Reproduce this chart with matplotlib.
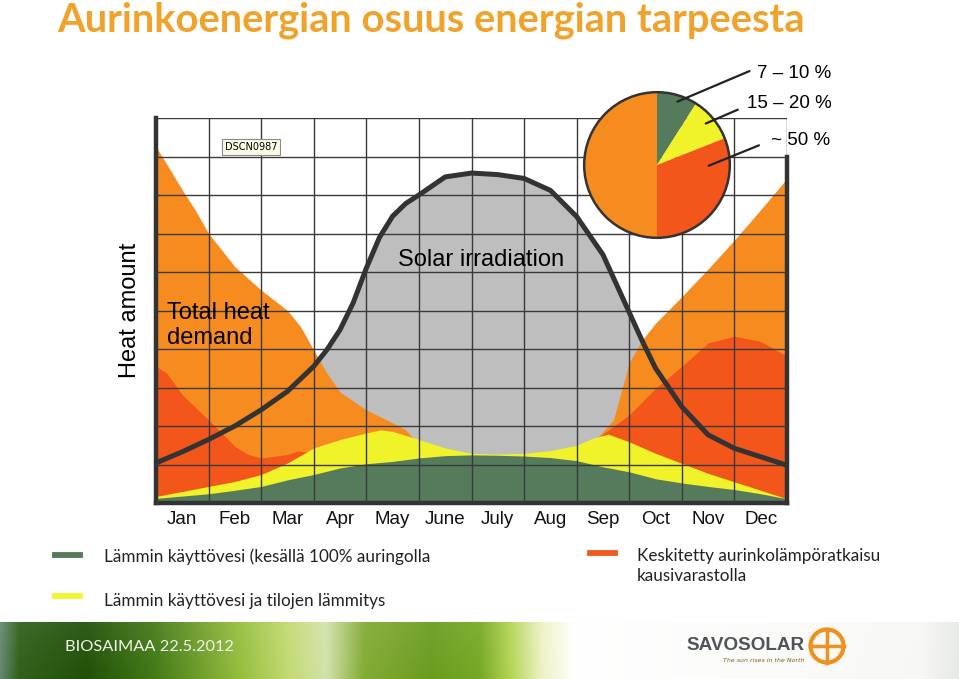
import matplotlib
matplotlib.use('Agg')
import matplotlib.pyplot as plt
import numpy as np
from matplotlib.lines import Line2D
from matplotlib.patches import Circle

# month labels, one per grid column
months = ['Jan', 'Feb', 'Mar', 'Apr', 'May', 'June', 'July', 'Aug', 'Sep', 'Oct', 'Nov', 'Dec']

# solar irradiation curve (grid units, x = months from start of Jan)
solar_x = [0, 0.5, 1, 1.5, 2, 2.5, 3, 3.25, 3.5, 3.75, 4, 4.25, 4.5, 4.75, 5, 5.5, 6,
           6.5, 7, 7.5, 8, 8.5, 9, 9.25, 9.5, 10, 10.5, 11, 11.5, 12]
solar_y = [1.04, 1.33, 1.65, 2.0, 2.42, 2.9, 3.55, 3.98, 4.5, 5.2, 6.1, 6.9, 7.45, 7.78, 8.0, 8.47, 8.57,
           8.53, 8.43, 8.12, 7.44, 6.45, 4.95, 4.2, 3.5, 2.5, 1.77, 1.42, 1.2, 0.98]

# total heat demand (top of the orange area)
orange_x = [0, 0.25, 0.5, 0.75, 1, 1.5, 2, 2.5, 2.75, 3, 3.25, 3.5, 4, 4.5, 4.75, 5, 6, 7, 8,
            8.4, 8.7, 9, 9.25, 9.5, 10, 10.5, 11, 11.5, 12]
orange_y = [9.25, 8.7, 8.13, 7.6, 7.0, 6.14, 5.53, 5.0, 4.58, 3.97, 3.37, 2.88, 2.42, 2.08, 1.9, 1.5, 1.2, 1.2, 1.3,
            1.7, 2.16, 3.65, 4.24, 4.67, 5.36, 6.08, 6.83, 7.62, 8.43]

# seasonal storage solution (top of the red area)
red_x = [0, 0.2, 0.5, 1, 1.5, 1.75, 2, 2.5, 2.7, 3, 4, 5, 6, 7, 8, 8.3,
         8.5, 9, 9.5, 10, 10.5, 11, 11.5, 12]
red_y = [3.55, 3.38, 2.81, 2.16, 1.47, 1.26, 1.17, 1.26, 1.35, 1.3, 1.3, 1.3, 1.2, 1.2, 1.3, 1.6,
         1.79, 2.29, 2.98, 3.55, 4.16, 4.33, 4.2, 3.81]

# hot water + space heating (top of the yellow area)
yellow_x = [0, 0.5, 1, 1.5, 2, 2.5, 3, 3.5, 4, 4.27, 4.5, 5, 5.5, 6, 6.5, 7, 7.5, 8, 8.3, 8.6,
            9, 9.5, 10, 10.5, 11, 11.5, 12]
yellow_y = [0.17, 0.3, 0.43, 0.56, 0.74, 1.04, 1.43, 1.65, 1.82, 1.9, 1.86, 1.65, 1.43, 1.29, 1.27, 1.29, 1.36, 1.5, 1.68, 1.79,
            1.59, 1.29, 1.03, 0.77, 0.55, 0.33, 0.11]

# hot water (top of the green area)
green_x = [0, 0.5, 1, 1.5, 2, 2.5, 3, 3.5, 4, 4.5, 5, 5.5, 6, 6.5, 7, 7.5, 8, 8.5,
           9, 9.5, 10, 10.5, 11, 11.5, 12]
green_y = [0.12, 0.18, 0.24, 0.33, 0.43, 0.6, 0.74, 0.91, 1.02, 1.08, 1.17, 1.23, 1.25, 1.24, 1.22, 1.18, 1.1, 0.94,
           0.81, 0.63, 0.52, 0.43, 0.35, 0.24, 0.11]

# pie: solar share per system
pie_shares = [9, 10, 31, 50]
pie_labels = ['7 – 10 %', '15 – 20 %', '~ 50 %']

legend_items = ['Lämmin käyttövesi (kesällä 100% auringolla',
                'Lämmin käyttövesi ja tilojen lämmitys',
                'Keskitetty aurinkolämpöratkaisu\nkausivarastolla']

GREEN = '#557a5c'
YELLOW = '#f0f22a'
RED = '#f2561a'
ORANGE = '#f68c1f'
GRAY = '#bebebe'
DARK = '#333333'

W, H = 959, 679
fig = plt.figure(figsize=(W / 100, H / 100), dpi=100)
fig.patch.set_facecolor('white')

# ---- main chart ----
ax = fig.add_axes([156 / W, (H - 503) / H, 631 / W, 385 / H])
ax.set_xlim(0, 12)
ax.set_ylim(0, 10)

ax.fill_between(solar_x, solar_y, 0, color=GRAY, lw=0, zorder=1.0)
ax.fill_between(orange_x, orange_y, 0, color=ORANGE, lw=0, zorder=1.1)
ax.fill_between(red_x, red_y, 0, color=RED, lw=0, zorder=1.2)
ax.fill_between(yellow_x, yellow_y, 0, color=YELLOW, lw=0, zorder=1.3)
ax.fill_between(green_x, green_y, 0, color=GREEN, lw=0, zorder=1.4)
ax.plot(solar_x, solar_y, color=DARK, lw=3.6, solid_capstyle='butt', solid_joinstyle='round', zorder=3)

ax.set_xticks(np.arange(12) + 0.5)
ax.set_xticklabels(months, fontsize=13.5, family='Liberation Sans', color='#111111')
ax.set_yticks([])
ax.set_xticks(np.arange(1, 13), minor=True)
ax.set_yticks(np.arange(1, 11), minor=True)
ax.tick_params(axis='x', which='both', length=0, pad=6)
ax.tick_params(axis='y', which='both', length=0)
ax.set_axisbelow(False)
ax.grid(True, which='minor', color='#3a3a3a', lw=1.0)

for s in ['left', 'bottom', 'right']:
    ax.spines[s].set_linewidth(3.2)
    ax.spines[s].set_color(DARK)
ax.spines['top'].set_visible(False)
ax.spines['right'].set_bounds(0, 9)

ax.text(6.18, 6.31, 'Solar irradiation', fontsize=17, family='Liberation Sans',
        ha='center', va='center', zorder=4)
ax.text(0.21, 4.61, 'Total heat\ndemand', fontsize=17, family='Liberation Sans',
        ha='left', va='center', linespacing=1.2, zorder=4)
ax.text(1.81, 9.25, 'DSCN0987', fontsize=7, family='DejaVu Sans', ha='center', va='center', zorder=4,
        bbox=dict(boxstyle='square,pad=0.3', fc='#fbfbe6', ec='#8a8a8a', lw=0.8))

fig.text(130 / W, (H - 310) / H, 'Heat amount', rotation=90, fontsize=17,
         family='Liberation Sans', ha='center', va='center')

# ---- pie ----
pax = fig.add_axes([582 / W, (H - 240) / H, 150 / W, 150 / H])
wedges, _ = pax.pie(pie_shares, colors=[GREEN, YELLOW, RED, ORANGE], startangle=90,
                    counterclock=False, wedgeprops=dict(lw=0))
pax.add_patch(Circle((0, 0), 1, fill=False, ec=DARK, lw=1.8))
pax.set_xlim(-1.03, 1.03)
pax.set_ylim(-1.03, 1.03)
pax.set_aspect('equal')

starts = [(0.28, 0.87), (0.67, 0.57), (0.71, -0.01)]
ends = [(1.27, 1.29), (1.11, 0.76), (1.40, 0.27)]
label_pos = [(1.37, 1.26), (1.24, 0.84), (1.57, 0.34)]
for st, en, lp, lab in zip(starts, ends, label_pos, pie_labels):
    pax.annotate('', xy=st, xytext=en, annotation_clip=False,
                 arrowprops=dict(arrowstyle='-', color='#222222', lw=1.6, shrinkA=0, shrinkB=0))
    pax.text(lp[0], lp[1], lab, fontsize=13.5, family='Liberation Sans', ha='left', va='center',
             clip_on=False)

# ---- title ----
fig.text(57 / W, 1 - 20 / H, 'Aurinkoenergian osuus energian tarpeesta', fontsize=28.7,
         fontweight='bold', family='Lato', color='#f1a22b', ha='left', va='center')

# ---- legend ----
leg_rows = [(55, 555, GREEN, 104, 557), (55, 596, '#f2f530', 104, 601), (590, 553, '#f05a22', 637, 566)]
for (lx, ly, col, tx, ty), lab in zip(leg_rows, legend_items):
    fig.add_artist(Line2D([lx / W, (lx + 25) / W], [1 - ly / H, 1 - ly / H], color=col, lw=4.2))
    fig.text(tx / W, 1 - ty / H, lab, fontsize=12.3, family='Lato', color='#222222',
             ha='left', va='center', linespacing=1.35)

# ---- footer band ----
fax = fig.add_axes([0, 0, 1, 57 / H])
fax.set_axis_off()
stops = [(0.0, '#6f8f7a'), (0.02, '#3d6a28'), (0.09, '#2f5c18'), (0.16, '#4f8226'), (0.25, '#9cc24a'),
         (0.30, '#c6dc7a'), (0.34, '#d5e4b0'), (0.38, '#8ab040'), (0.45, '#74a22e'), (0.50, '#7fae33'),
         (0.53, '#b5d45a'), (0.565, '#eef3c8'), (0.60, '#ffffff'), (0.96, '#f8f8f6'), (1.0, '#e8ebe8')]
pos = [p for p, _ in stops]
rgb = np.array([matplotlib.colors.to_rgb(c) for _, c in stops])
xs = np.linspace(0, 1, W)
row = np.stack([np.interp(xs, pos, rgb[:, k]) for k in range(3)], axis=-1)
shade = np.linspace(1.0, 0.93, 57)[:, None, None]
img = 1 - (1 - row[None, :, :]) * (2 - shade)
img = np.clip(img, 0, 1)
fax.imshow(img, aspect='auto', extent=[0, 1, 0, 1])
fax.set_xlim(0, 1)
fax.set_ylim(0, 1)

fig.text(65 / W, 1 - 647 / H, 'BIOSAIMAA 22.5.2012', fontsize=11.8, family='Lato', color='#f2f5ea',
         ha='left', va='center')
fig.text(686 / W, 1 - 645 / H, 'SAVOSOLAR', fontsize=13.6, fontweight='bold', family='Liberation Sans',
         color='#4f5459', ha='left', va='center')
fig.text(764 / W, 1 - 660 / H, 'The sun rises in the North', fontsize=4.5, style='italic',
         family='DejaVu Sans', color='#8a5a20', ha='center', va='center')
fig.add_artist(Circle((8.27, 0.33), 0.165, transform=fig.dpi_scale_trans, fill=False,
                      ec='#f0901e', lw=3))
fig.add_artist(Line2D([8.27, 8.27], [0.165, 0.495], transform=fig.dpi_scale_trans, color='#f0901e', lw=2.5))
fig.add_artist(Line2D([8.105, 8.435], [0.33, 0.33], transform=fig.dpi_scale_trans, color='#f0901e', lw=2.5))

fig.savefig('out.png', dpi=100)
